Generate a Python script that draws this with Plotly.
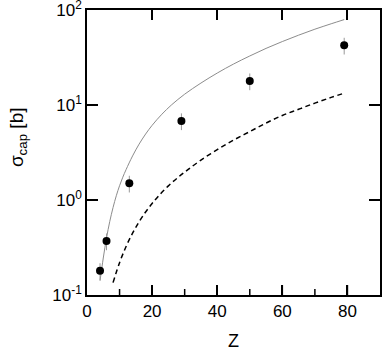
import plotly.graph_objects as go

# measured points
z_data = [4, 6, 13, 29, 50, 79]
sigma_data = [0.18, 0.37, 1.5, 6.8, 17.9, 42.5]
err_percent = 20

# solid theory curve
z_solid = [4, 5, 6, 7, 8, 9, 10, 11, 12, 14, 16, 18, 20, 23, 26, 30, 35, 40, 45, 50, 55, 60, 65, 70, 75, 79]
sigma_solid = [0.141, 0.245, 0.398, 0.596, 0.832, 1.109, 1.413, 1.738, 2.089, 2.911, 3.873, 4.943, 6.109,
               7.998, 10.05, 13.00, 17.02, 21.68, 26.98, 32.81, 39.45, 46.56, 54.33, 62.81, 71.61, 79.25]

# dashed theory curve
z_dash = [8, 10, 12, 14, 16, 18, 20, 22, 25, 28, 31, 35, 40, 45, 50, 55, 60, 65, 70, 75, 79]
sigma_dash = [0.135, 0.219, 0.324, 0.447, 0.589, 0.748, 0.920, 1.107, 1.409, 1.734, 2.089, 2.630, 3.388,
              4.266, 5.248, 6.457, 7.762, 9.016, 10.47, 12.02, 13.30]

x_range = [0, 90]
x_major = [0, 20, 40, 60, 80]
x_minor = [10, 30, 50, 70]
y_ticks = [0.1, 1, 10, 100]
y_ticktext = ["10<sup>-1</sup>", "10<sup>0</sup>", "10<sup>1</sup>", "10<sup>2</sup>"]

FONT = "Liberation Sans, Arial, Helvetica, sans-serif"

fig = go.Figure()
fig.add_trace(go.Scatter(x=z_solid, y=sigma_solid, mode="lines", line_shape="spline",
                         line=dict(color="#8c8c8c", width=1), showlegend=False))
fig.add_trace(go.Scatter(x=z_dash, y=sigma_dash, mode="lines", line_shape="spline",
                         line=dict(color="black", width=1.5, dash="5px,3.5px"), showlegend=False))
fig.add_trace(go.Scatter(x=z_data, y=sigma_data, mode="markers",
                         marker=dict(color="black", size=8),
                         error_y=dict(type="percent", value=err_percent, color="#999999",
                                      thickness=1, width=0),
                         showlegend=False))

fig.update_layout(
    template="none",
    width=382, height=351,
    margin=dict(l=87, r=2, t=10, b=56),
    paper_bgcolor="white", plot_bgcolor="white",
    font=dict(family=FONT, size=17, color="black"),
    xaxis=dict(
        range=x_range, tickmode="array", tickvals=x_major, ticks="inside", ticklen=10, tickwidth=1.5,
        tickcolor="black", showline=True, linecolor="black", linewidth=1.5, mirror="ticks",
        showgrid=False, zeroline=False, ticklabeloverflow="allow",
        title=dict(text="Z", font=dict(size=18, color="black"), standoff=14),
    ),
    yaxis=dict(
        type="log", range=[-1, 2], tickmode="array", tickvals=y_ticks, ticktext=y_ticktext,
        ticks="inside", ticklen=11, tickwidth=1.5, tickcolor="black",
        showline=True, linecolor="black", linewidth=1.5, mirror="ticks",
        showgrid=False, zeroline=False, ticklabeloverflow="allow",
    ),
)

# tick marks (inside, on all four sides)
tick_line = dict(color="black", width=1.5)
for v, ln in [(v, 10) for v in x_major[1:]] + [(v, 6) for v in x_minor]:
    fig.add_shape(type="line", xref="x", yref="y", x0=v, x1=v, ysizemode="pixel",
                  yanchor=y_ticks[0], y0=0, y1=ln, line=tick_line)
    fig.add_shape(type="line", xref="x", yref="y", x0=v, x1=v, ysizemode="pixel",
                  yanchor=y_ticks[-1], y0=0, y1=-ln, line=tick_line)
for v in y_ticks[1:-1]:
    fig.add_shape(type="line", xref="x", yref="y", y0=v, y1=v, xsizemode="pixel",
                  xanchor=x_range[0], x0=0, x1=11, line=tick_line)
    fig.add_shape(type="line", xref="x", yref="y", y0=v, y1=v, xsizemode="pixel",
                  xanchor=x_range[1], x0=-11, x1=0, line=tick_line)

# y-axis title
fig.add_annotation(text="σ<sub>cap</sub> [b]", textangle=-90, xref="paper", yref="paper",
                   x=0, xshift=-69, y=0.554, xanchor="center", yanchor="middle",
                   showarrow=False, font=dict(size=19, color="black"))

fig.write_html("out.html", config={"displayModeBar": False},
               post_script="document.body.style.margin='0';")
